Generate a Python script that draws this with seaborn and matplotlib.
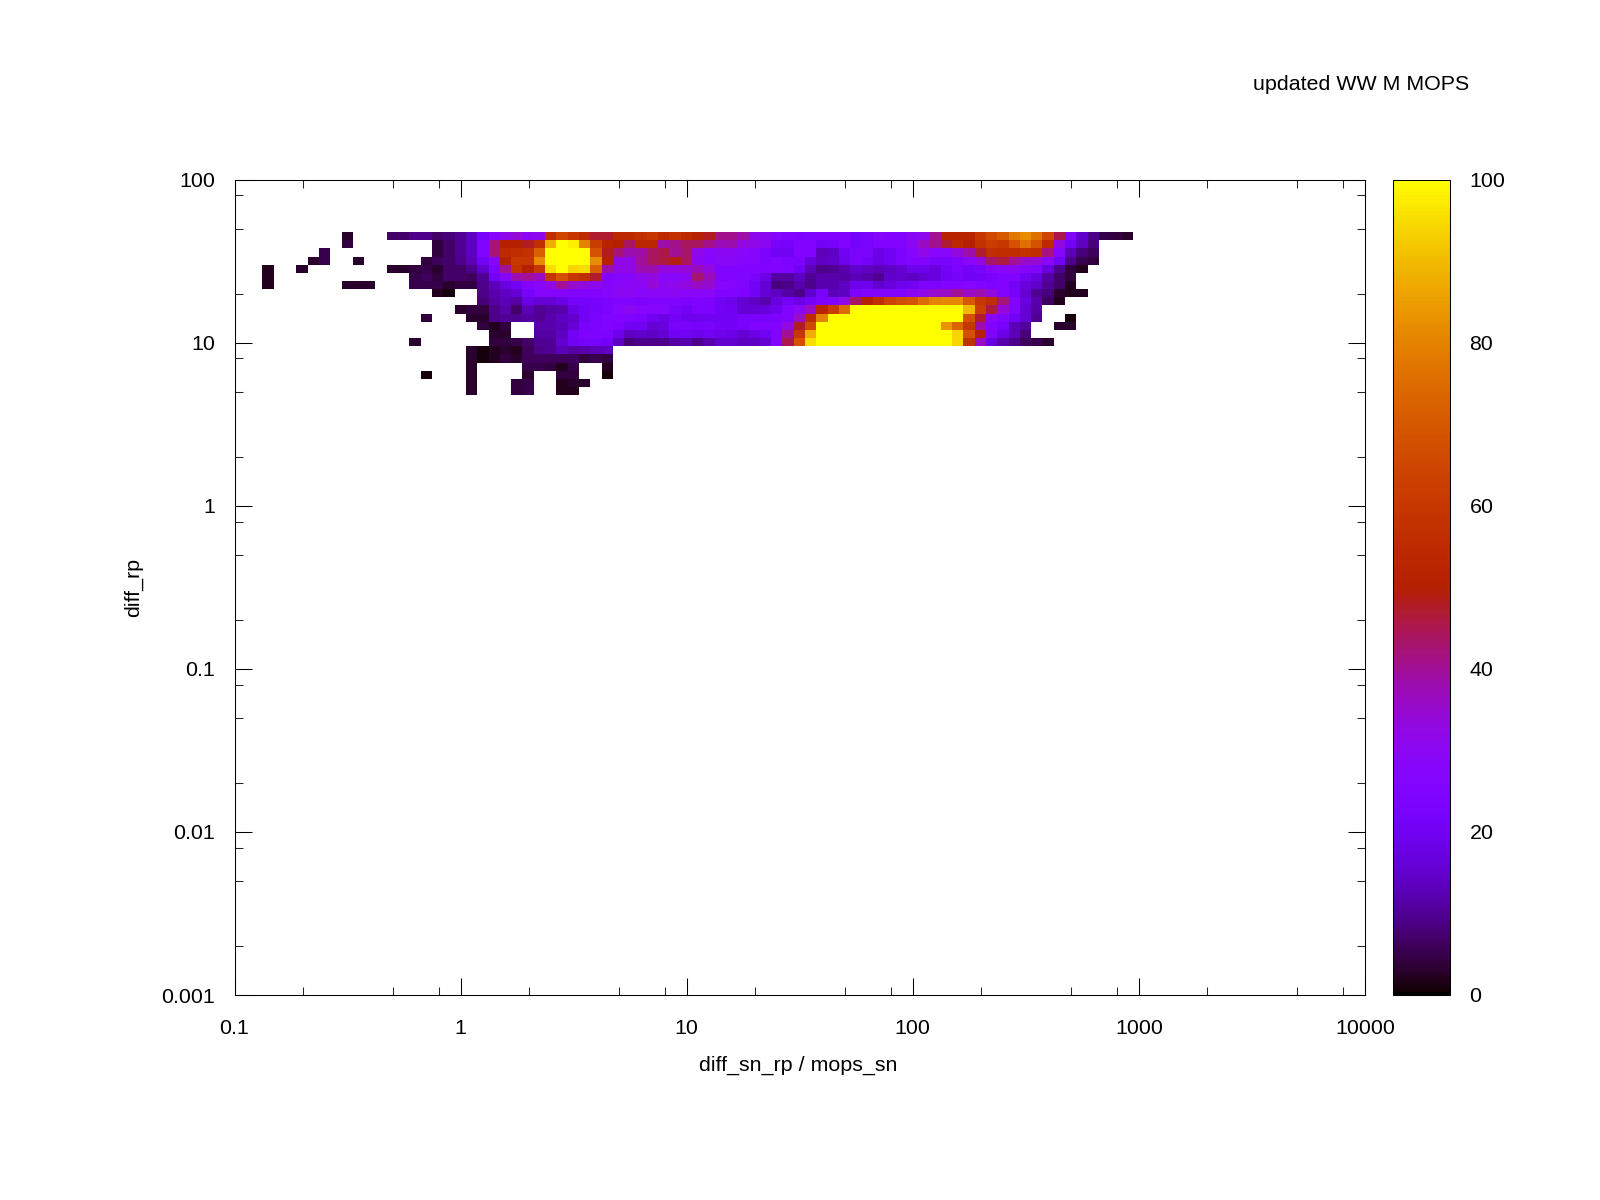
import matplotlib
matplotlib.use("Agg")
import matplotlib.pyplot as plt
from matplotlib.colors import ListedColormap
from matplotlib.ticker import LogLocator, NullFormatter
import seaborn as sns
import pandas as pd
import numpy as np

_ = np.nan
Y100 = [100] * 10

# heat values, top row (diff_rp ~ 45) down to bottom row (diff_rp ~ 5)
row_00 = [_]*7 + [3] + [_]*3 + [7,7,9,9,7,8,10,14,22,28,31,34,30,31,57,65,60,55,47,47,54,54,57,60,55,58,54,51,48,41,41,38,31,30,27,26,24,25,26,26,26,22,23,27,26,26,29,31,40,52,52,52,60,66,70,78,82,76,65,45,26,15,9,5,4,3]
row_01 = [_]*7 + [4] + [_]*7 + [4,7,10,14,25,42,50,50,48,57,88,100,98,80,62,52,50,44,53,53,38,41,44,44,41,37,38,33,32,30,23,22,25,25,21,22,26,22,23,25,25,26,30,36,41,47,54,50,58,62,60,68,76,68,55,33,21,14,8]
row_02 = [_]*5 + [5] + [_]*9 + [4,7,10,14,25,42,55,56,58,72,100,100,100,100,68,48,42,38,39,44,45,40,43,32,28,30,30,28,27,24,20,20,25,25,13,14,20,23,23,18,20,24,27,32,28,28,33,38,47,57,56,56,58,56,42,27,13,8,6]
row_03 = [_]*4 + [3,5,_,_,3] + [_]*5 + [4,6,7,9,13,21,27,50,60,60,82,100,100,100,100,82,50,32,32,40,44,46,49,44,30,27,29,29,27,27,24,25,24,24,17,14,15,19,23,21,18,20,24,26,26,23,23,26,28,33,43,46,40,35,34,29,20,9,5,4]
row_04 = [2,_,_,3] + [_]*7 + [3,3,4,5,3,7,7,9,15,24,40,58,50,60,95,100,94,95,72,38,32,32,38,38,33,33,34,37,33,26,25,25,26,25,25,25,20,13,9,10,12,15,14,13,14,16,19,19,17,21,24,21,23,27,28,30,27,25,17,9,4,2]
row_05 = [2] + [_]*12 + [5,6,4,7,7,6,10,21,27,38,40,36,60,68,60,57,47,25,27,27,31,33,28,28,30,43,37,26,26,25,23,18,11,11,14,10,12,12,11,13,12,10,15,15,14,16,17,21,22,21,21,23,25,25,20,17,11,7,4]
row_06 = [2] + [_]*6 + [3,3,3] + [_]*3 + [5,5,5,3,4,4,9,13,17,21,26,28,32,40,35,33,31,27,29,29,30,34,30,31,33,36,35,28,27,25,21,16,8,9,12,9,12,12,14,19,19,15,17,19,20,24,24,26,25,27,26,24,26,21,17,15,10,7,2]
row_07 = [_]*15 + [2,1,_,_] + [9,12,14,16,22,27,27,27,26,26,26,27,30,30,28,29,29,30,28,28,29,25,26,24,21,16,14,11,9,15,22,13,14,24,25,26,26,26,30,32,35,36,40,36,38,33,26,22,16,10,8,3,2,2]
row_08 = [_]*19 + [8,11,13,11,18,16,16,18,22,22,23,24,25,25,24,26,26,25,24,25,24,20,19,16,14,12,17,21,18,21,24,26,32,43,50,57,64,67,69,75,80,81,81,70,60,56,42,26,17,12,6,2]
row_09 = [_]*17 + [3,4,4,9,12,7,13,10,11,12,18,21,22,24,27,30,27,27,27,23,21,24,24,21,20,16,16,17,19,25,29,36,53,62,75] + Y100 + [90,62,46,34,25,16,11]
row_10 = [_]*14 + [4,_,_,_,3,3,9,10,10,11,10,12,14,15,20,23,25,26,25,24,20,18,21,19,19,20,20,20,22,23,23,24,25,36,55,80] + Y100 + [100,100,68,47,28,25,20,16,10,_,_,1]
row_11 = [_]*19 + [4,2,4,_,_,12,12,13,16,22,24,26,24,20,20,16,17,22,23,22,23,21,21,22,25,25,26,33,48,66,100] + Y100 + [83,73,60,38,26,22,13,11,_,_,3,3]
row_12 = [_]*20 + [3,3,_,_,11,11,14,21,24,24,24,19,14,15,14,16,20,20,19,20,19,18,16,18,20,25,40,60,88,100] + Y100 + [100,94,68,50,25,18,13,8]
row_13 = [_]*13 + [3] + [_]*6 + [4,4,5,7,10,10,15,20,22,22,21,14,8,9,9,9,11,12,9,12,15,15,14,14,16,25,45,68,95,100] + Y100 + [100,94,58,36,17,12,9,6,5,3]
row_14 = [_]*18 + [3,1,2,3,2,6,9,10,13,11,12,13,14]
row_15 = [_]*18 + [3,1,2,4,3,6,6,6,6,6,4,5,4]
row_16 = [_]*18 + [3,_,_,_,_,5,5,4,2,5,_,_,2]
row_17 = [_]*14 + [1,_,_,_,3,_,_,_,_,3,_,_,4,4,_,_,1]
row_18 = [_]*18 + [3,_,_,_,4,5,_,_,2,3,3]
row_19 = [_]*18 + [3,_,_,_,4,5,_,_,2,2]

rows = [row_00, row_01, row_02, row_03, row_04, row_05, row_06, row_07, row_08, row_09,
        row_10, row_11, row_12, row_13, row_14, row_15, row_16, row_17, row_18, row_19]

x_ticks = [0.1, 1, 10, 100, 1000, 10000]
x_labels = ["0.1", "1", "10", "100", "1000", "10000"]
y_ticks = [0.001, 0.01, 0.1, 1, 10, 100]
y_labels = ["0.001", "0.01", "0.1", "1", "10", "100"]
cb_ticks = [0, 20, 40, 60, 80, 100]

n_cols = 77
heat = pd.DataFrame([r + [_] * (n_cols - len(r)) for r in rows])

# gnuplot default palette, rgbformulae 7,5,15
gray = np.linspace(0, 1, 256)
gnu = ListedColormap(np.c_[np.sqrt(gray), gray ** 3, np.clip(np.sin(2 * np.pi * gray), 0, 1)])

sns.set_theme(style="white", rc={"axes.linewidth": 0.75, "axes.edgecolor": "black"})
plt.rcParams["font.family"] = ["Liberation Sans", "DejaVu Sans"]
fsize = 15.4

W, H = 1600, 1200
L, R, T, B = 234.5, 1365, 179.5, 995
rect = [L / W, 1 - B / H, (R - L) / W, (B - T) / H]

fig = plt.figure(figsize=(16, 12), dpi=100)
ax = fig.add_axes(rect)
cax = fig.add_axes([1393 / W, 1 - B / H, 57 / W, (B - T) / H])

sns.heatmap(heat, ax=ax, cmap=gnu, vmin=0, vmax=100, cbar_ax=cax,
            xticklabels=False, yticklabels=False, cbar_kws={"ticks": cb_ticks})
# cells sit on a 20 per decade grid, first column/row are offset from the frame
ax.set_xlim(-2.47, 97.53)
ax.set_ylim(93.55, -6.45)
ax.axis("off")

# log axes on top for frame and ticks
ax_log = fig.add_axes(rect, facecolor="none")
ax_log.set_xscale("log")
ax_log.set_yscale("log")
ax_log.set_xlim(0.1, 10000)
ax_log.set_ylim(0.001, 100)
ax_log.set_xticks(x_ticks, x_labels, fontsize=fsize)
ax_log.set_yticks(y_ticks, y_labels, fontsize=fsize)
ax_log.xaxis.set_minor_locator(LogLocator(base=10, subs=(2, 5, 8), numticks=20))
ax_log.yaxis.set_minor_locator(LogLocator(base=10, subs=(2, 5, 8), numticks=20))
ax_log.xaxis.set_minor_formatter(NullFormatter())
ax_log.yaxis.set_minor_formatter(NullFormatter())
ax_log.tick_params(which="major", direction="in", length=12, width=0.75, top=True, right=True,
                   bottom=True, left=True, pad=14, colors="black")
ax_log.tick_params(axis="x", which="major", pad=17)
ax_log.tick_params(which="minor", direction="in", length=6, width=0.75, top=True, right=True,
                   bottom=True, left=True)
ax_log.set_xlabel("diff_sn_rp / mops_sn", fontsize=fsize, color="black", labelpad=12)
ax_log.xaxis.set_label_coords(0.4985, -0.0745)
ax_log.set_ylabel("diff_rp", fontsize=fsize, color="black", labelpad=13)
for s in ax_log.spines.values():
    s.set_visible(True)
    s.set_color("black")
    s.set_linewidth(0.75)

cax.tick_params(direction="in", length=9, width=0.75, left=True, right=True, labelsize=fsize,
                pad=14, colors="black")
cbar = ax.collections[0].colorbar
cbar.outline.set_visible(True)
cbar.outline.set_edgecolor("black")
cbar.outline.set_linewidth(0.75)

fig.text(1469 / W, 1 - 84 / H, "updated WW M MOPS", ha="right", va="center", fontsize=fsize, color="black")

plt.savefig("out.png", dpi=100)
